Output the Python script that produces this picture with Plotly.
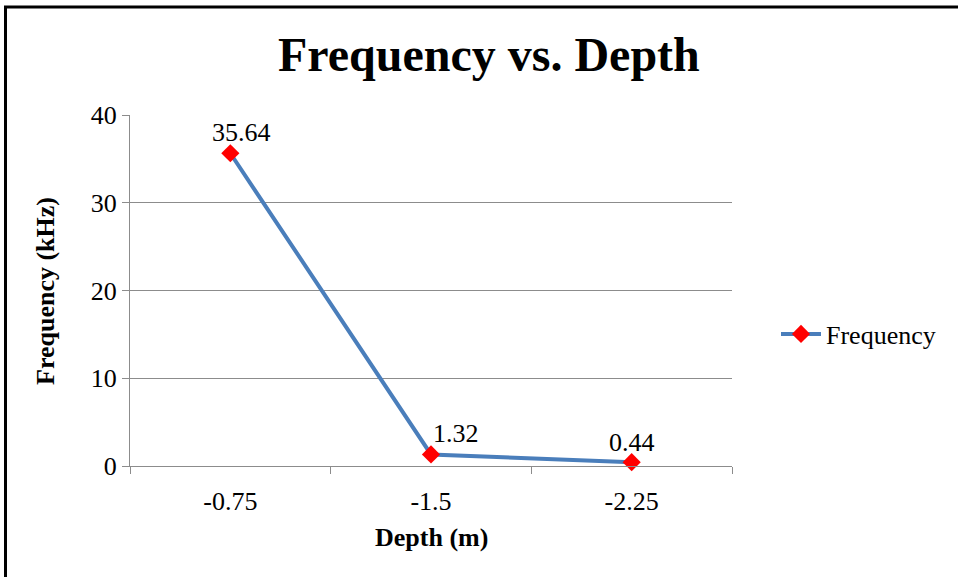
import plotly.graph_objects as go

categories = ["-0.75", "-1.5", "-2.25"]
frequency = [35.64, 1.32, 0.44]
label_text = ["35.64", "1.32", "0.44"]
y_ticks = [0, 10, 20, 30, 40]

FONT = "Liberation Serif, Times New Roman, serif"
L, R, T, B = 130, 226, 115, 111
W, H = 958, 577
pw, ph = W - L - R, H - T - B

def px_x(x):
    return (x - L) / pw

def px_y(y):
    return (H - B - y) / ph

xs = list(range(len(categories)))
label_shift = [(11, 21), (25, 21), (0, 20)]

fig = go.Figure()
fig.add_trace(go.Scatter(
    x=xs, y=frequency, mode="lines+markers", name="Frequency",
    line=dict(color="#4A7EBB", width=4),
    marker=dict(symbol="diamond", color="#FF0000", size=14),
    cliponaxis=False,
))

annotations = [
    dict(text=t, x=x, y=y, xref="x", yref="y", showarrow=False,
         xshift=dx, yshift=dy, xanchor="center", yanchor="middle",
         font=dict(family=FONT, size=26, color="#000000"))
    for t, x, y, (dx, dy) in zip(label_text, xs, frequency, label_shift)
]
annotations += [
    dict(text="<b>Frequency vs. Depth</b>", x=px_x(489), y=px_y(55),
         xref="paper", yref="paper", showarrow=False,
         font=dict(family=FONT, size=48, color="#000000"),
         xanchor="center", yanchor="middle"),
    dict(text="<b>Depth (m)</b>", x=px_x(431), y=px_y(537),
         xref="paper", yref="paper", showarrow=False,
         font=dict(family=FONT, size=26, color="#000000"),
         xanchor="center", yanchor="middle"),
    dict(text="<b>Frequency (kHz)</b>", x=px_x(45), y=px_y(291),
         xref="paper", yref="paper", showarrow=False, textangle=-90,
         font=dict(family=FONT, size=26, color="#000000"),
         xanchor="center", yanchor="middle"),
]

fig.update_layout(
    width=W, height=H,
    margin=dict(l=L, r=R, t=T, b=B),
    paper_bgcolor="white", plot_bgcolor="white",
    font=dict(family=FONT, size=26, color="#000000"),
    showlegend=True,
    legend=dict(x=px_x(776), y=px_y(334), xanchor="left", yanchor="middle",
                font=dict(family=FONT, size=26, color="#000000"),
                bgcolor="rgba(0,0,0,0)", itemwidth=40),
    xaxis=dict(
        range=[-0.5, 2.5], tickvals=xs, ticktext=categories,
        ticks="", showgrid=False, zeroline=False,
        showline=True, linecolor="#8C8C8C", linewidth=1,
        tickfont=dict(family=FONT, size=26), ticklabelstandoff=12,
        minor=dict(tick0=-0.5, dtick=1, ticks="outside", ticklen=7,
                   tickcolor="#8C8C8C", showgrid=False),
    ),
    yaxis=dict(
        range=[0, 40], tickvals=y_ticks, ticks="outside", ticklen=7,
        tickcolor="#8C8C8C", showgrid=True, gridcolor="#8C8C8C", gridwidth=1,
        zeroline=False, showline=True, linecolor="#8C8C8C", linewidth=1,
        tickfont=dict(family=FONT, size=26),
    ),
    annotations=annotations,
    shapes=[
        dict(type="line", xref="paper", yref="paper",
             x0=px_x(5.5), x1=px_x(5.5), y0=px_y(7), y1=px_y(600),
             line=dict(color="#000000", width=3)),
        dict(type="line", xref="paper", yref="paper",
             x0=px_x(4), x1=px_x(970), y0=px_y(7), y1=px_y(7),
             line=dict(color="#000000", width=3)),
    ],
)

fig.write_html("out.html")
